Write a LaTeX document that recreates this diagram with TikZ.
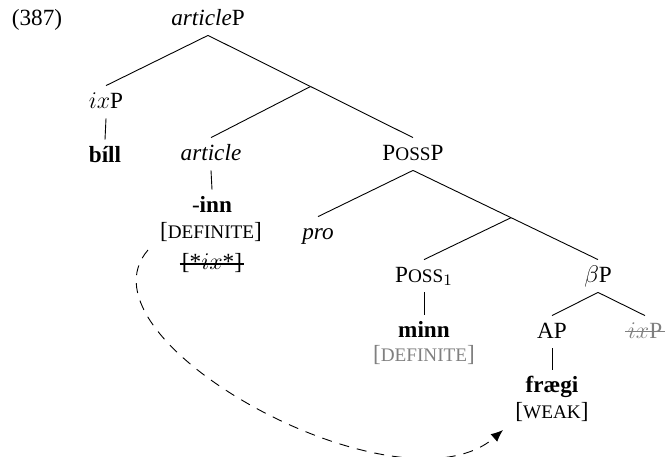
\documentclass[tikz,border=0pt]{standalone}
\usepackage{fontspec}
\setmainfont{Liberation Serif}
\usepackage{xcolor}
\usetikzlibrary{arrows.meta, calc}

% fake small caps (Liberation Serif has none)
\newcommand{\fsc}[1]{{\fontsize{9.6}{11}\selectfont #1}}

\begin{document}
\begin{tikzpicture}[
        x=0.5pt, y=-0.5pt,
        font=\fontsize{11.6}{13.8}\selectfont,
        cat/.style={anchor=base, inner sep=0pt, text height=11pt, text depth=5pt},
        feat/.style={anchor=base, inner sep=0pt},
        edge/.style={draw, line width=0.45pt},
        faded/.style={text=black!50},
        strike/.style={line width=1.2pt, line cap=butt},
        move/.style={draw, line width=0.45pt, dash pattern=on 5pt off 4pt,
            -{Latex[length=6pt, width=5pt]}},
    ]
        \useasboundingbox (0,0) rectangle (667,456);

        \node[feat] (exno) at (37,25) {(387)};

        % tree nodes
        \node[cat] (articleP) at (208,25) {\textit{article}P};
        \node[cat] (ixP) at (106,108) {$ix$P};
        \node[cat] (bill) at (105,162) {\textbf{bíll}};
        \node[cat] (article) at (211,160) {\textit{article}};
        \node[cat] (inn) at (212,212) {-\textbf{inn}};
        \node[feat] (defA) at (211,238) {[\fsc{DEFINITE}]};
        \node[feat] (ixstar) at (212,269) {[*$ix$*]};
        \node[cat] (PossP) at (413,160) {P\fsc{OSS}P};
        \node[cat] (pro) at (318,239) {\textit{pro}};
        \node[cat] (Poss) at (424,282) {P\fsc{OSS}$_1$};
        \node[cat] (minn) at (424,337) {\textbf{minn}};
        \node[feat, faded] (defB) at (424,361) {[\fsc{DEFINITE}]};
        \node[cat] (betaP) at (598,282) {$\beta$P};
        \node[cat] (AP) at (552,338) {AP};
        \node[cat, faded] (ixPlow) at (645,338) {$ix$P};
        \node[cat] (fraegi) at (552,392) {\textbf{frægi}};
        \node[feat] (weak) at (552,418) {[\fsc{WEAK}]};

        \coordinate (j1) at ($(articleP.south)!0.5!(PossP.north)$);
        \coordinate (j2) at ($(PossP.south)!0.53!(betaP.north)$);

        % branches
        \foreach \i/\j in {articleP.south/ixP.north, ixP.south/bill.north,
            articleP.south/j1, j1/article.north, j1/PossP.north,
            article.south/inn.north, PossP.south/pro.north, PossP.south/j2,
            j2/Poss.north, j2/betaP.north, Poss.south/minn.north,
            betaP.south/AP.north, betaP.south/ixPlow.north, AP.south/fraegi.north}
            \path[edge] (\i) -- (\j);

        % struck copies
        \draw[strike] ([xshift=-1pt, yshift=2.5pt]ixstar.base west)
            -- ([xshift=1pt, yshift=2.5pt]ixstar.base east);
        \draw[black!50, line width=0.5pt] ([xshift=-1pt, yshift=3.5pt]ixPlow.base west)
            -- ([xshift=1pt, yshift=3.5pt]ixPlow.base east);

        % movement
        \coordinate (movefrom) at (148,250);
        \coordinate (moveto) at (503,430);
        \path[move] (movefrom) .. controls (70,340) and (400,520) .. (moveto);
    \end{tikzpicture}
\end{document}
